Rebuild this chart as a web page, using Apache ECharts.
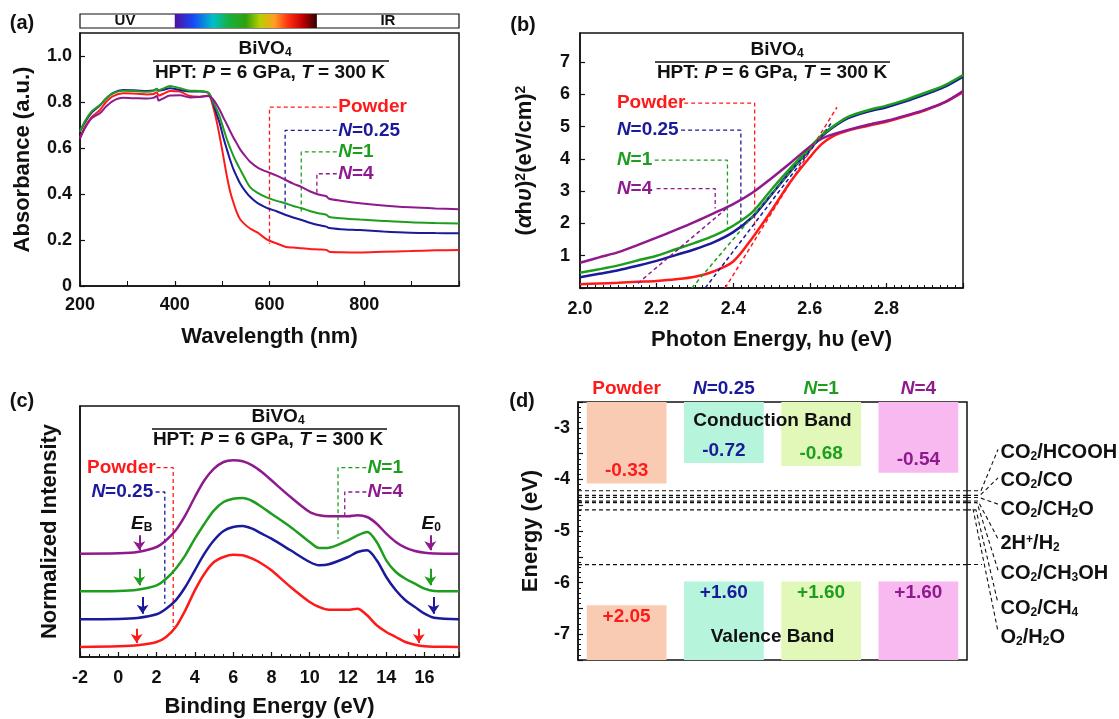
<!DOCTYPE html>
<html>
<head>
<meta charset="utf-8">
<script src="https://cdn.jsdelivr.net/npm/echarts@6/dist/echarts.min.js"></script>
<style>
html, body { margin: 0; padding: 0; background: #fff; }
#main { width: 1119px; height: 719px; }
</style>
</head>
<body>
<div id="main"></div>
<script>
// ---------- data ----------
var names = ['Powder', 'N=0.25', 'N=1', 'N=4'];
var colors = ['#ff1a1a', '#1a1a9a', '#1e9e1e', '#8e1a8e'];

// (a) UV-vis absorbance
var wlA = [200,210,225,242,255,270,291,320,341,355,362,366,375,390,411,432,453,471,481,488,495,502,510,517,524,531,538,548,559,575,594,615,633,650,668,685,703,720,726,750,791,840,897,950,1000];
var absPowder = [0.642,0.69,0.735,0.765,0.80,0.826,0.838,0.836,0.833,0.835,0.842,0.828,0.835,0.848,0.845,0.826,0.823,0.828,0.78,0.72,0.649,0.57,0.478,0.41,0.362,0.32,0.29,0.268,0.25,0.232,0.203,0.185,0.171,0.167,0.164,0.161,0.159,0.157,0.149,0.147,0.146,0.149,0.152,0.155,0.157];
var absN025 = [0.671,0.71,0.755,0.785,0.815,0.840,0.852,0.850,0.848,0.850,0.855,0.849,0.852,0.860,0.852,0.846,0.846,0.840,0.795,0.75,0.707,0.65,0.594,0.548,0.507,0.475,0.446,0.415,0.388,0.36,0.34,0.325,0.31,0.298,0.287,0.275,0.265,0.258,0.252,0.247,0.243,0.237,0.232,0.23,0.229];
var absN1 = [0.671,0.715,0.76,0.787,0.815,0.838,0.849,0.847,0.845,0.848,0.858,0.851,0.858,0.870,0.860,0.849,0.848,0.840,0.80,0.77,0.736,0.69,0.638,0.60,0.565,0.535,0.507,0.468,0.43,0.405,0.385,0.37,0.36,0.348,0.338,0.326,0.316,0.31,0.3,0.295,0.289,0.283,0.277,0.274,0.272];
var absN4 = [0.642,0.685,0.73,0.751,0.78,0.805,0.818,0.816,0.815,0.818,0.826,0.806,0.815,0.828,0.829,0.82,0.822,0.826,0.811,0.79,0.765,0.735,0.703,0.673,0.645,0.62,0.594,0.567,0.54,0.515,0.497,0.48,0.462,0.445,0.43,0.412,0.398,0.39,0.379,0.371,0.36,0.35,0.342,0.337,0.334];
var visRange = [400, 700];
var leadA = [
  [[742, 0.778], [600, 0.778], [600, 0.184]],
  [[742, 0.677], [633, 0.677], [633, 0.329]],
  [[742, 0.583], [667, 0.583], [667, 0.322]],
  [[742, 0.488], [700, 0.488], [700, 0.394]]
];

// (b) Tauc plot
var evB = [2.0,2.05,2.1,2.15,2.2,2.25,2.3,2.35,2.4,2.45,2.5,2.55,2.6,2.63,2.66,2.7,2.75,2.8,2.85,2.9,2.95,3.0];
var taucPowder = [0.12,0.14,0.16,0.19,0.22,0.27,0.35,0.52,0.82,1.55,2.4,3.3,4.05,4.45,4.7,4.88,5.02,5.15,5.32,5.5,5.74,6.07];
var taucN025 = [0.33,0.44,0.55,0.69,0.84,1.02,1.2,1.42,1.73,2.2,2.9,3.62,4.3,4.68,4.97,5.26,5.46,5.6,5.78,5.99,6.22,6.55];
var taucN1 = [0.47,0.58,0.70,0.85,1.0,1.2,1.4,1.62,1.93,2.35,3.05,3.72,4.35,4.72,5.0,5.3,5.5,5.65,5.83,6.04,6.27,6.6];
var taucN4 = [0.78,0.95,1.11,1.33,1.56,1.8,2.05,2.32,2.6,2.95,3.4,3.88,4.38,4.62,4.76,4.9,5.05,5.18,5.34,5.52,5.74,6.1];
var tangentB = [
  [[2.379, 0], [2.671, 5.6]],
  [[2.327, 0], [2.658, 5.14]],
  [[2.292, 0], [2.645, 4.94]],
  [[2.151, 0.145], [2.387, 2.51]]
];
var leadB = [
  [[2.272, 5.73], [2.456, 5.73], [2.456, 1.79]],
  [[2.264, 4.89], [2.42, 4.89], [2.42, 1.9]],
  [[2.195, 3.96], [2.385, 3.96], [2.385, 1.79]],
  [[2.2, 3.08], [2.353, 3.08], [2.353, 2.46]]
];

// (c) UPS spectra (offset, arbitrary units)
var beC = [-2,0,1,2,2.5,3,3.5,4,4.5,5,5.5,6,6.5,7,7.5,8,9,10,10.5,11,12,12.5,13,13.5,14,14.5,15,15.5,16,16.5,17.8];
var xpsPowder = [10,10.7,11.7,15,20,30,46.7,66.7,83.3,95,100,102.3,101.7,98.3,93.3,86.7,70,55,50,47.3,47.3,48.3,41.7,31.7,25,20,15,12.3,10.7,10.3,10];
var xpsN025 = [37.7,38,39,42.7,48.3,56.7,70,86.7,103.3,116.7,126,130,131,128.3,123.3,118.3,106.7,95,91.7,92.7,100,105,106.7,96.7,80,66.7,56.7,50,43.3,39.3,37.7];
var xpsN1 = [65.7,66,67.3,71.7,78.3,88.3,101.7,118.3,133.3,146.7,155,158.3,159,156,150,143.3,130,115,109,109.3,116.7,121.7,125,115,96.7,85,78.3,73.3,68.3,66,65.7];
var xpsN4 = [103.3,103.7,105,110,116.7,126.7,141.7,160,176.7,188.3,195,196.7,195.7,191.7,185,176.7,160,145,141.7,140.7,140.7,141.7,140,133.3,123.3,115,109.3,106,104.3,103.5,103.3];
// arrows: [x at E_B, x at E_0, y from, y to]
var arrowC = [[0.96, 15.7, 28.3, 14], [1.27, 16.47, 60, 43.3], [1.1, 16.3, 88.3, 71.7], [1.1, 16.3, 121.7, 106.7]];
var leadC = [
  [[2.0, 189.3], [2.87, 189.3], [2.87, 30]],
  [[1.95, 165], [2.43, 165], [2.43, 53.3]],
  [[12.96, 189.3], [11.48, 189.3], [11.48, 118.3]],
  [[12.96, 165], [11.83, 165], [11.83, 141.7]]
];

// (d) band positions (eV vs vacuum) and labels (V vs NHE)
var cbVac = [-4.08, -3.68, -3.74, -3.87];
var vbVac = [-6.44, -5.98, -5.98, -5.98];
var cbText = ['-0.33', '-0.72', '-0.68', '-0.54'];
var vbText = ['+2.05', '+1.60', '+1.60', '+1.60'];
var barFill = ['#f9cbb3', '#b6f5dc', '#e1f8b8', '#f8b8f0'];
var redoxLabels = ['{n|CO}{s|2}{n|/HCOOH}', '{n|CO}{s|2}{n|/CO}', '{n|CO}{s|2}{n|/CH}{s|2}{n|O}', '{n|2H}{p|+}{n|/H}{s|2}',
  '{n|CO}{s|2}{n|/CH}{s|3}{n|OH}', '{n|CO}{s|2}{n|/CH}{s|4}', '{n|O}{s|2}{n|/H}{s|2}{n|O}'];
var redoxVac = [-4.22, -4.31, -4.35, -4.42, -4.45, -4.59, -5.65];
var redoxLabelE = [-3.475, -4.03, -4.58, -5.25, -5.83, -6.5, -7.06];
var redoxLinkE = [-3.42, -3.97, -4.48, -5.15, -5.76, -6.4, -6.95];

// ---------- helpers ----------
var FF = '"Liberation Sans", Arial, Helvetica, sans-serif';
var INK = '#111';

function rich(size, color) {
  var sub = Math.round(size * 0.62);
  var r = {
    n: { fontFamily: FF, fontWeight: 'bold', fontSize: size },
    i: { fontFamily: FF, fontWeight: 'bold', fontStyle: 'italic', fontSize: size },
    s: { fontFamily: FF, fontWeight: 'bold', fontSize: sub, verticalAlign: 'bottom', lineHeight: 9 },
    p: { fontFamily: FF, fontWeight: 'bold', fontSize: sub, verticalAlign: 'top', lineHeight: 9 }
  };
  if (color) { for (var k in r) { r[k].color = color; } }
  return r;
}
var nameFmt = ['{n|Powder}', '{i|N}{n|=0.25}', '{i|N}{n|=1}', '{i|N}{n|=4}'];

function zip(xs, ys) { return xs.map(function (x, i) { return [x, ys[i]]; }); }

function axis(gi, o) {
  return {
    gridIndex: gi, type: 'value', min: o.min, max: o.max, interval: o.interval,
    axisLine: { onZero: false, lineStyle: { color: INK, width: 1.5 } },
    axisTick: { show: o.ticks !== false, inside: true, length: 5, lineStyle: { color: INK, width: 1.2 } },
    minorTick: { show: !!o.minor, splitNumber: o.minor || 5, length: o.minorLen || 3, lineStyle: { color: INK, width: 1 } },
    splitLine: { show: false },
    axisLabel: { show: o.labels !== false, color: INK, fontFamily: FF, fontWeight: 'bold', fontSize: 18,
      margin: o.margin || 8, formatter: o.fmt, showMaxLabel: o.showMax, showMinLabel: o.showMin },
    name: o.name, nameLocation: 'middle', nameGap: o.gap,
    nameTextStyle: { color: INK, fontFamily: FF, fontWeight: 'bold', fontSize: 22, rich: rich(22, INK) }
  };
}

function curve(xi, yi, xs, ys, k, w) {
  return { type: 'line', xAxisIndex: xi, yAxisIndex: yi, data: zip(xs, ys), showSymbol: false, symbol: 'none',
    smooth: 0.3, lineStyle: { color: colors[k], width: w }, itemStyle: { color: colors[k] }, silent: true, z: 3 };
}

function dashed(xi, yi, pts, color, w, z) {
  return { type: 'line', xAxisIndex: xi, yAxisIndex: yi, data: pts, symbol: 'none', showSymbol: false, silent: true,
    lineStyle: { color: color, width: w || 1.3, type: [4, 3] }, z: z || 2 };
}

// items: [x, y, text, color, position, fontSize]
function texts(xi, yi, items) {
  return { type: 'scatter', xAxisIndex: xi, yAxisIndex: yi, symbolSize: 1, silent: true, z: 10, clip: false,
    itemStyle: { color: 'rgba(0,0,0,0)', opacity: 1 },
    data: items.map(function (t) {
      var c = t[3] || INK;
      return { value: [t[0], t[1]], label: { show: true, opacity: 1, formatter: t[2], color: c,
        position: t[4] || 'right', distance: 0, rich: rich(t[5] || 19, c) } };
    }) };
}

function gtext(text, x, y, size) {
  return { type: 'text', x: x, y: y, z: 100, silent: true,
    style: { text: text, fill: INK, font: 'bold ' + size + 'px ' + FF, rich: rich(size),
      align: 'center', verticalAlign: 'middle', textAlign: 'center', textVerticalAlign: 'middle' } };
}
function gline(x1, x2, y) {
  return { type: 'line', z: 100, silent: true, shape: { x1: x1, y1: y, x2: x2, y2: y }, style: { stroke: INK, lineWidth: 1.5 } };
}
var HPT = '{n|HPT: }{i|P}{n| = 6 GPa, }{i|T}{n| = 300 K}';
var BIVO = '{n|BiVO}{s|4}';

// ---------- chart ----------
var dom = document.getElementById('main');
var myChart = echarts.init(dom, null, { renderer: 'canvas' });

var gridBox = { show: true, borderColor: INK, borderWidth: 1.5, outerBoundsMode: 'none' };
function grid(l, t, w, h, extra) { return Object.assign({ left: l, top: t, width: w, height: h }, gridBox, extra || {}); }

var series = [];
var absSets = [absPowder, absN025, absN1, absN4];
var taucSets = [taucPowder, taucN025, taucN1, taucN4];
var xpsSets = [xpsPowder, xpsN025, xpsN1, xpsN4];

// (a)
absSets.forEach(function (s, k) { series.push(curve(0, 0, wlA, s, k, 2)); });
leadA.forEach(function (p, k) { series.push(dashed(0, 0, p, colors[k])); });
series.push(texts(0, 0, leadA.map(function (p, k) { return [744, p[0][1], nameFmt[k], colors[k]]; })));
// colour bar
series.push({ type: 'custom', xAxisIndex: 1, yAxisIndex: 1, silent: true, data: [visRange],
  renderItem: function (params, api) {
    var a = api.coord([api.value(0), 1]), b = api.coord([api.value(1), 0]);
    return { type: 'rect', shape: { x: a[0], y: a[1], width: b[0] - a[0], height: b[1] - a[1] },
      style: { fill: new echarts.graphic.LinearGradient(0, 0, 1, 0, [
        { offset: 0, color: '#5010a0' }, { offset: 0.13, color: '#1848f8' }, { offset: 0.27, color: '#00c0c8' },
        { offset: 0.38, color: '#18b040' }, { offset: 0.5, color: '#30a010' }, { offset: 0.6, color: '#b8d000' },
        { offset: 0.7, color: '#ffa020' }, { offset: 0.8, color: '#ff3010' }, { offset: 0.9, color: '#c00000' },
        { offset: 1, color: '#300000' }]) } };
  } });
series.push(texts(1, 1, [[295, 0.5, '{n|UV}', INK, 'inside', 15], [850, 0.5, '{n|IR}', INK, 'inside', 15]]));

// (b)
taucSets.forEach(function (s, k) { series.push(curve(2, 2, evB, s, k, 2.5)); });
tangentB.forEach(function (p, k) { series.push(dashed(2, 2, p, colors[k], 1.5, 4)); });
leadB.forEach(function (p, k) { series.push(dashed(2, 2, p, colors[k])); });
series.push(texts(2, 2, leadB.map(function (p, k) { return [2.095, p[0][1], nameFmt[k], colors[k]]; })));

// (c)
xpsSets.forEach(function (s, k) {
  var c = curve(3, 3, beC, s, k, 2.5);
  var a = arrowC[k];
  c.markLine = { silent: true, symbol: ['none', 'arrow'], symbolSize: 9, label: { show: false },
    lineStyle: { type: 'solid', width: 2, color: colors[k] }, itemStyle: { color: colors[k] }, animation: false,
    data: [[{ coord: [a[0], a[2]] }, { coord: [a[0], a[3]] }], [{ coord: [a[1], a[2]] }, { coord: [a[1], a[3]] }]] };
  series.push(c);
});
leadC.forEach(function (p, k) { series.push(dashed(3, 3, p, colors[k])); });
series.push(texts(3, 3, [
  [1.98, 189.3, nameFmt[0], colors[0], 'left'],
  [1.85, 165, nameFmt[1], colors[1], 'left'],
  [13.0, 189.3, nameFmt[2], colors[2], 'right'],
  [13.0, 165, nameFmt[3], colors[3], 'right'],
  [1.22, 133.3, '{i|E}{s|B}', INK, 'inside'],
  [16.35, 133.3, '{i|E}{s|0}', INK, 'inside']
]));

// (d)
series.push({ type: 'custom', xAxisIndex: 4, yAxisIndex: 4, silent: true, z: 3, data: cbVac.map(function (v, i) { return [i, v]; }),
  renderItem: function (params, api) {
    var i = api.value(0), p = api.coord([i, api.value(1)]), w = api.size([1, 0])[0] * 0.82, cs = params.coordSys;
    return { type: 'rect', shape: { x: p[0] - w / 2, y: cs.y, width: w, height: p[1] - cs.y }, style: { fill: barFill[i] },
      textContent: { style: { text: cbText[i], fill: colors[i], fontSize: 19, fontWeight: 'bold', fontFamily: FF } },
      textConfig: { position: 'insideBottom', distance: 3 } };
  } });
series.push({ type: 'custom', xAxisIndex: 4, yAxisIndex: 4, silent: true, z: 3, data: vbVac.map(function (v, i) { return [i, v]; }),
  renderItem: function (params, api) {
    var i = api.value(0), p = api.coord([i, api.value(1)]), w = api.size([1, 0])[0] * 0.82, cs = params.coordSys;
    return { type: 'rect', shape: { x: p[0] - w / 2, y: p[1], width: w, height: cs.y + cs.height - p[1] }, style: { fill: barFill[i] },
      textContent: { style: { text: vbText[i], fill: colors[i], fontSize: 19, fontWeight: 'bold', fontFamily: FF } },
      textConfig: { position: 'insideTop', distance: 2 } };
  } });
redoxVac.forEach(function (v) { series.push(dashed(5, 4, [[0, v], [4, v]], INK, 1.2)); });
series.push(texts(5, 4, [[2, -2.865, '{n|Conduction Band}', INK, 'inside'], [2, -7.05, '{n|Valence Band}', INK, 'inside']]));
// right-hand redox labels
redoxVac.forEach(function (v, i) {
  if (i < 6) {
    series.push(dashed(6, 5, [[0, v], [14 - i, v], [31, redoxLinkE[i]]], INK, 1.1));
  } else {
    series.push(dashed(6, 5, [[0, v], [15, v]], INK, 1.1));
    series.push(dashed(6, 5, [[6, -4.57], [31, redoxLinkE[i]]], INK, 1.1));
  }
});
series.push(texts(6, 5, redoxLabels.map(function (t, i) { return [33, redoxLabelE[i], t, INK, 'right', 20]; })));

// header labels of (d), coloured per sample
var headRich = {};
colors.forEach(function (c, i) {
  var r = rich(19, c);
  headRich['n' + i] = r.n;
  headRich['i' + i] = r.i;
});

var option = {
  animation: false,
  backgroundColor: '#fff',
  grid: [
    grid(80, 33, 379, 253),
    grid(80, 14, 379, 14, { borderWidth: 1.2 }),
    grid(580, 33, 383, 255),
    grid(80, 406, 379, 251),
    grid(578, 402, 389, 258),
    { left: 967, top: 402, width: 152, height: 258, show: false, outerBoundsMode: 'none' }
  ],
  xAxis: [
    axis(0, { min: 200, max: 1000, interval: 200, minor: 2, minorLen: 5, showMax: false, name: 'Wavelength (nm)', gap: 40, margin: 10 }),
    { gridIndex: 1, type: 'value', min: 200, max: 1000, show: false },
    axis(2, { min: 2, max: 3, interval: 0.2, minor: 10, minorLen: 3, showMax: false, margin: 12,
      fmt: function (v) { return v.toFixed(1); }, name: 'Photon Energy, h\u03c5 (eV)', gap: 41 }),
    axis(3, { min: -2, max: 17.8, interval: 2, minor: 4, minorLen: 3, showMax: false, margin: 12, name: 'Binding Energy (eV)', gap: 39 }),
    { gridIndex: 4, type: 'category', position: 'top', data: names, axisLine: { show: false }, axisTick: { show: false },
      splitLine: { show: false },
      axisLabel: { interval: 0, hideOverlap: false, margin: 4, rich: headRich,
        formatter: function (v, i) { return nameFmt[i].replace(/\{n\|/g, '{n' + i + '|').replace(/\{i\|/g, '{i' + i + '|'); } } },
    { gridIndex: 4, type: 'value', min: 0, max: 4, show: false },
    { gridIndex: 5, type: 'value', min: 0, max: 152, show: false }
  ],
  yAxis: [
    axis(0, { min: 0, max: 1.1, interval: 0.2, showMax: false, margin: 8,
      fmt: function (v) { return v === 0 ? '0' : v.toFixed(1); }, name: 'Absorbance (a.u.)', gap: 46 }),
    { gridIndex: 1, type: 'value', min: 0, max: 1, show: false },
    axis(2, { min: 0, max: 7.9, interval: 1, showMax: false, margin: 10,
      fmt: function (v) { return v === 0 ? '' : String(v); },
      name: '{n|(}{i|\u03b1}{n|h}{i|\u03c5}{n|)}{p|2}{n|(eV/cm)}{p|2}', gap: 44 }),
    axis(3, { min: 0, max: 251, labels: false, ticks: false, name: 'Normalized Intensity', gap: 19 }),
    axis(4, { min: -7.5, max: -2.5, interval: 0.5, minor: 5, minorLen: 3, margin: 8,
      fmt: function (v) { return Number.isInteger(v) ? String(v) : ''; }, name: 'Energy (eV)', gap: 36 }),
    { gridIndex: 5, type: 'value', min: -7.5, max: -2.5, show: false }
  ],
  graphic: [
    gtext('(a)', 22, 23, 20), gtext('(b)', 523, 25, 20), gtext('(c)', 22, 401, 20), gtext('(d)', 522, 401, 20),
    gtext(BIVO, 265, 49, 19), gline(153, 389, 61), gtext(HPT, 270, 73, 19),
    gtext(BIVO, 777, 50, 19), gline(655, 890, 62), gtext(HPT, 772, 73, 19),
    gtext(BIVO, 278, 417, 19), gline(152, 387, 429), gtext(HPT, 268, 440, 19)
  ],
  series: series
};

if (option && typeof option === 'object') {
  myChart.setOption(option, true);
}
</script>
</body>
</html>
